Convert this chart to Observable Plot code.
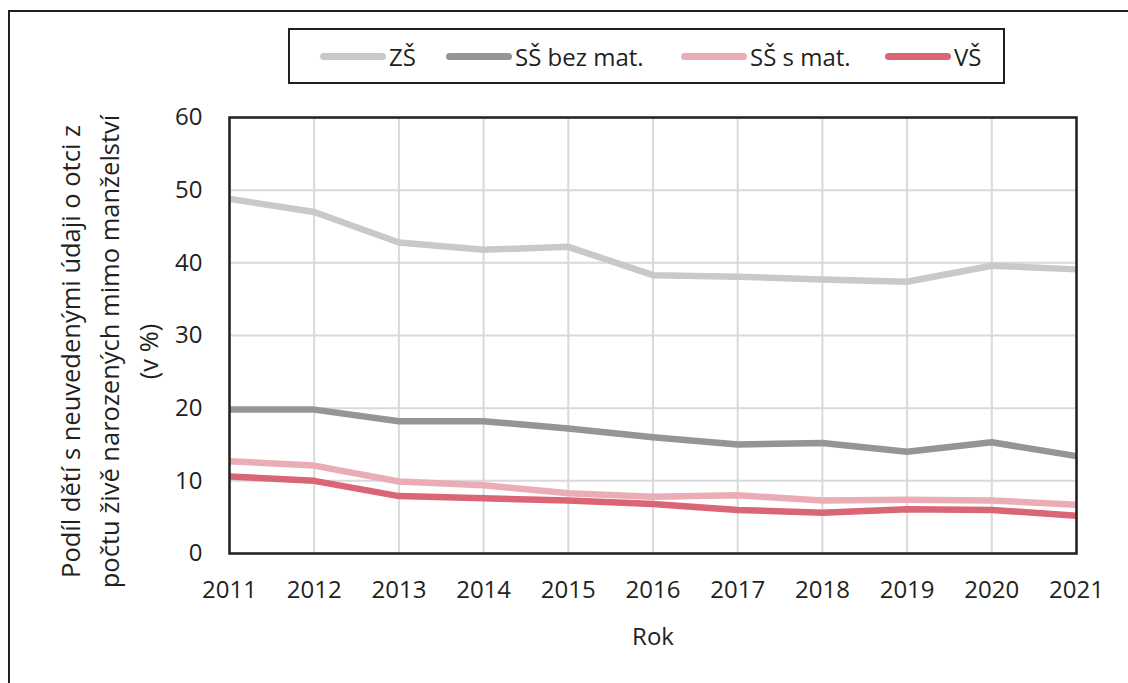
<!DOCTYPE html>
<html>
<head>
<meta charset="utf-8">
<script src="https://cdn.jsdelivr.net/npm/d3@7"></script>
<script src="https://cdn.jsdelivr.net/npm/@observablehq/plot@0.6"></script>
<style>
  html, body { margin: 0; padding: 0; background: #fff; }
  #wrap { position: relative; width: 1128px; height: 683px; overflow: hidden; font-family: "Open Sans", sans-serif; color: #231f20; }
  #outer { position: absolute; left: 8px; top: 10px; width: 1200px; height: 800px; border-left: 2.5px solid #231f20; border-top: 2.5px solid #231f20; }
  #chart { position: absolute; left: 0; top: 0; }
  #legend { position: absolute; left: 288px; top: 28px; width: 713px; height: 52px; border: 2.5px solid #231f20; background: #fff; }
  .item { position: absolute; top: 0; height: 52px; display: flex; align-items: center; font-size: 24px; white-space: nowrap; }
  .swatch { display: inline-block; width: 66px; height: 7px; border-radius: 3.5px; margin-right: 3px; }
</style>
</head>
<body>
<div id="wrap">
  <div id="outer"></div>
  <div id="chart"></div>
  <div id="legend"></div>
</div>
<script>
const years = [2011, 2012, 2013, 2014, 2015, 2016, 2017, 2018, 2019, 2020, 2021];
const seriesNames = ["ZŠ", "SŠ bez mat.", "SŠ s mat.", "VŠ"];
const seriesColors = ["#c8c9cb", "#939598", "#ebadb5", "#d96575"];
const zs    = [48.8, 47.0, 42.8, 41.8, 42.2, 38.3, 38.1, 37.7, 37.4, 39.6, 39.1];
const ssBez = [19.8, 19.8, 18.2, 18.2, 17.2, 16.0, 15.0, 15.2, 14.0, 15.3, 13.4];
const ssMat = [12.7, 12.1, 9.9, 9.4, 8.3, 7.8, 8.0, 7.3, 7.4, 7.3, 6.7];
const vs    = [10.6, 10.0, 7.9, 7.6, 7.3, 6.8, 6.0, 5.6, 6.1, 6.0, 5.2];
const yTicks = [0, 10, 20, 30, 40, 50, 60];
const yTitle = "Podíl dětí s neuvedenými údaji o otci z\npočtu živě narozených mimo manželství\n(v %)";
const xTitle = "Rok";

const seriesValues = [zs, ssBez, ssMat, vs];
const data = [];
seriesNames.forEach((name, i) => {
  years.forEach((yr, j) => data.push({series: name, year: yr, value: seriesValues[i][j]}));
});

const chart = Plot.plot({
  width: 1128,
  height: 683,
  marginLeft: 229,
  marginRight: 52,
  marginTop: 117,
  marginBottom: 130,
  style: {fontFamily: "Open Sans, sans-serif", fontSize: "24px", color: "#231f20", background: "transparent"},
  x: {domain: [2011, 2021], label: null},
  y: {domain: [0, 60], label: null},
  color: {domain: seriesNames, range: seriesColors},
  marks: [
    Plot.gridX(years, {stroke: "#d9d9d9", strokeOpacity: 1, strokeWidth: 2}),
    Plot.gridY(yTicks, {stroke: "#d9d9d9", strokeOpacity: 1, strokeWidth: 2}),
    Plot.axisX({ticks: years, tickFormat: "d", tickSize: 0, tickPadding: 27, fontSize: 24, fill: "#231f20", label: null}),
    Plot.axisY({ticks: yTicks, tickSize: 0, tickPadding: 27, fontSize: 24, fill: "#231f20", label: null}),
    Plot.lineY(data, {x: "year", y: "value", z: "series", stroke: "series", strokeWidth: 6.5, strokeLinejoin: "round", strokeLinecap: "butt"}),
    Plot.frame({stroke: "#231f20", strokeWidth: 2.5}),
    Plot.text([yTitle], {frameAnchor: "left", rotate: -90, dx: -123, dy: 16, lineHeight: 1.52, fontSize: 25.5, textAnchor: "middle", fill: "#231f20"}),
    Plot.text([xTitle], {frameAnchor: "bottom", dy: 91, fontSize: 24, fill: "#231f20"})
  ]
});
document.getElementById("chart").appendChild(chart);

const legend = document.getElementById("legend");
const legendX = [30, 156, 391, 595];
seriesNames.forEach((name, i) => {
  const it = document.createElement("div");
  it.className = "item";
  it.style.left = legendX[i] + "px";
  const sw = document.createElement("span");
  sw.className = "swatch";
  sw.style.background = seriesColors[i];
  it.appendChild(sw);
  it.appendChild(document.createTextNode(name));
  legend.appendChild(it);
});
</script>
</body>
</html>
